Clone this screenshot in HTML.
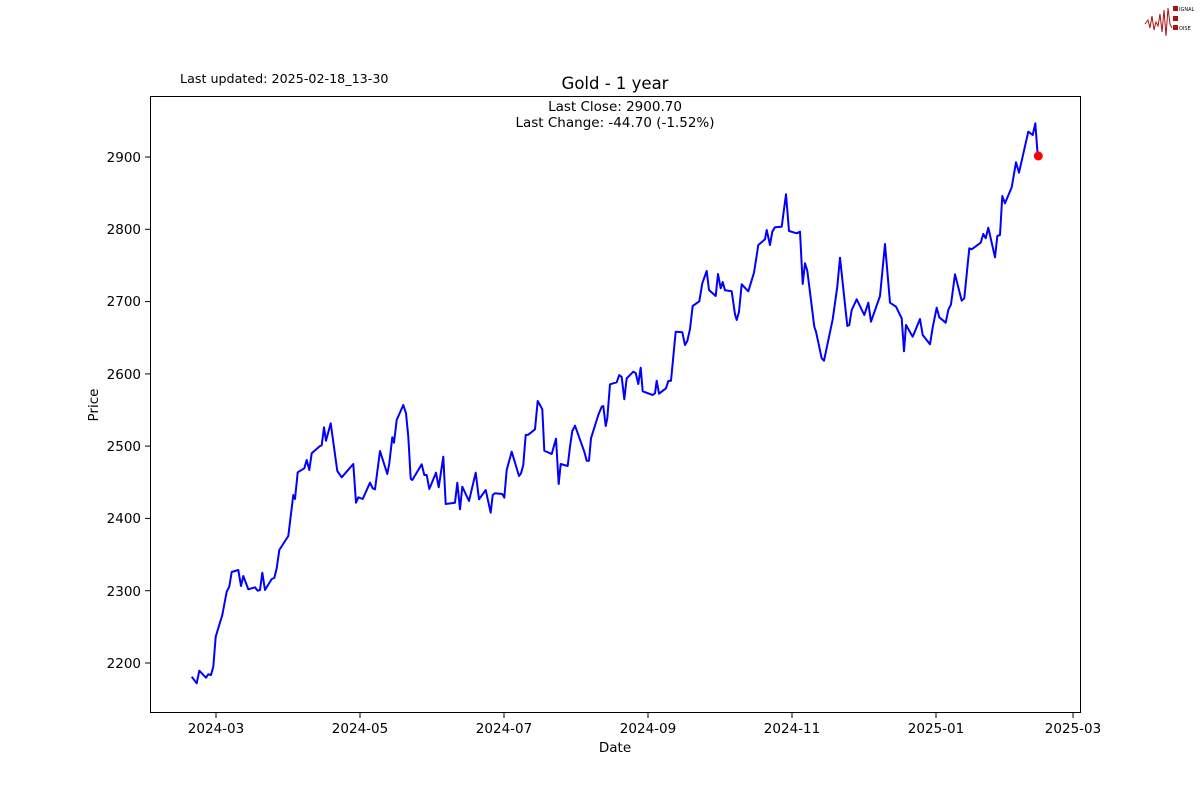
<!DOCTYPE html>
<html><head><meta charset="utf-8"><style>
body{margin:0;background:#fff}
svg text{font-family:"DejaVu Sans","Liberation Sans",sans-serif;fill:#000}
</style></head><body>
<svg width="1200" height="800" viewBox="0 0 1200 800" xmlns="http://www.w3.org/2000/svg">
<rect width="1200" height="800" fill="#fff"/>
<polyline points="1145,24 1148,20 1150,28 1152,16 1154,30 1156,22 1158,26 1160,14 1162,32 1164,10 1166,36 1168,8 1170,24 1172,28" fill="none" stroke="#a11" stroke-width="1"/>
<rect x="1173" y="6" width="5" height="5" fill="#a11"/><rect x="1173" y="16" width="5" height="5" fill="#a11"/><rect x="1173" y="25" width="5" height="5" fill="#a11"/>
<text x="1179" y="11" font-size="5">IGNAL</text><text x="1179" y="30" font-size="5">OISE</text>
<text x="180" y="83" font-size="12.7">Last updated: 2025-02-18_13-30</text>
<text x="615" y="89" font-size="16.5" text-anchor="middle">Gold - 1 year</text>
<text x="615" y="111" font-size="13.5" text-anchor="middle">Last Close: 2900.70</text>
<text x="615" y="127" font-size="13.5" text-anchor="middle">Last Change: -44.70 (-1.52%)</text>
<rect x="150.5" y="96.5" width="930" height="616" fill="none" stroke="#000" stroke-width="1"/>
<g stroke="#000" stroke-width="1">
<line x1="150" y1="663" x2="145" y2="663"/><line x1="150" y1="590.7" x2="145" y2="590.7"/><line x1="150" y1="518.4" x2="145" y2="518.4"/><line x1="150" y1="446.1" x2="145" y2="446.1"/><line x1="150" y1="373.9" x2="145" y2="373.9"/><line x1="150" y1="301.6" x2="145" y2="301.6"/><line x1="150" y1="229.3" x2="145" y2="229.3"/><line x1="150" y1="157" x2="145" y2="157"/>
<line x1="216" y1="713" x2="216" y2="718"/><line x1="360" y1="713" x2="360" y2="718"/><line x1="504" y1="713" x2="504" y2="718"/><line x1="648" y1="713" x2="648" y2="718"/><line x1="792" y1="713" x2="792" y2="718"/><line x1="936" y1="713" x2="936" y2="718"/><line x1="1073" y1="713" x2="1073" y2="718"/>
</g>
<g font-size="13.5" text-anchor="end">
<text x="141" y="668">2200</text><text x="141" y="596">2300</text><text x="141" y="523">2400</text><text x="141" y="451">2500</text><text x="141" y="379">2600</text><text x="141" y="306">2700</text><text x="141" y="234">2800</text><text x="141" y="162">2900</text>
</g>
<g font-size="13.5" text-anchor="middle">
<text x="216" y="733">2024-03</text><text x="360" y="733">2024-05</text><text x="504" y="733">2024-07</text><text x="648" y="733">2024-09</text><text x="792" y="733">2024-11</text><text x="936" y="733">2025-01</text><text x="1073" y="733">2025-03</text>
</g>
<text x="615" y="752" font-size="13.5" text-anchor="middle">Date</text>
<text transform="translate(98,405) rotate(-90)" font-size="13.5" text-anchor="middle">Price</text>
<polyline fill="none" stroke="#0000ff" stroke-width="2" stroke-linejoin="round" points="191.7,676.7 196.7,683.3 199.3,670.7 206,677.7 208.3,674.3 211,675 213.3,666.7 215.7,636.7 222.3,615 226.7,591.7 229.3,586.7 231.7,572 238.3,570 241,586 243.3,576 248.3,589.3 255,587.3 257.7,590.7 260,590 262.3,572.7 265,590 271.7,579 274.3,578 276.7,568.3 279.3,550 288.3,536 293.3,495 295,499 297.7,472.3 304.3,468.3 306.7,460 309.3,470 311.7,453.3 320,446 321.7,445.3 324,427.3 326,440.7 330.7,423.3 337.3,471 341.7,477.3 353.3,464 356,502.7 358.3,497.3 362.7,499 370,482.7 372.7,488.3 375,489.3 380,451 387.3,474 389.3,463.3 392.3,437.3 394,442.7 396.7,420 403.3,405 406,413.3 408.3,436.7 410.7,478.7 412.3,480 421.7,464.3 424.3,475 426.7,475 429.3,489 436,472.7 438.7,487.3 443.3,456.7 445.7,504 455,502.7 457.3,482.7 460,509.3 462.3,486.7 469,501 475.7,472.7 479,499.3 485.7,490 490.7,512.7 492.7,495 495,493.3 502.3,494 504.3,497.7 506.7,470 511.7,451.7 519,476 521,473.3 523.3,465 525.7,435 528.3,434.7 535,429.3 537.7,401 540,405 542.3,409.3 544.3,450.7 551.7,454 556,438.7 558.7,484 560.7,464 567.7,466 570,446.7 572.3,431 575,425.7 584.3,451.7 586.7,460.7 589,460.7 591,438.3 598.3,415 601.7,406.7 603.3,406 605.7,426 607.3,418.3 610,384.3 616.7,382.3 619.3,375 621.7,377 624.3,399.3 626.7,378.3 633.3,371.7 635.7,373 638.3,384 640.7,367.7 642.7,391.3 652.7,395 655,393.3 656.7,380.7 659,393.7 666,388.3 668.3,381 671,380.7 675.7,331.7 682.3,332.3 685,345 687.3,341 690,329 692.7,306 699.3,301.3 702.3,283.3 706.7,271 709,290 715.7,296 718,274 720.7,288.3 722.7,282 725,290.3 731.7,291.3 735,314.3 736.7,320 739,311.7 741.7,284.3 748.3,291.3 754,272.7 758.3,245 765,239.3 766.7,230 770,245 772.3,231.7 775,227.3 781.7,226.7 786,194.3 789,231 796.7,233.3 800,231.7 802.7,284 805,263.3 807.3,270.7 814.3,326.7 816,331.7 821.7,358.3 824,360.7 832.7,319.3 837.3,286.7 840,257.7 847.3,326 849.3,325 851.7,310 856.7,299.3 864.3,315 868.3,302.7 871,321.7 880,296 885,244 890,302.7 896,306.7 901.7,318.3 904,351.3 906,325 912.7,336.7 920,319 922.7,335 930,344.3 932.7,327.3 936.7,307.7 939.3,317.3 945.7,322.7 948.3,310 951,304.3 955,274.3 961.7,300.7 964.3,298.3 969.3,248.3 971.7,249.3 980.7,242.7 983.3,234 985.7,238.3 988.3,227.7 995,257.3 997.3,236 1000,235 1002.3,196 1005,203.3 1011.7,187.3 1016,162.3 1019,172.7 1028.3,131.7 1032.7,135 1035.3,123.3 1037.3,150 1038.3,156"/>
<circle cx="1038.3" cy="156" r="4.5" fill="#ff0000"/>
</svg>
</body></html>
